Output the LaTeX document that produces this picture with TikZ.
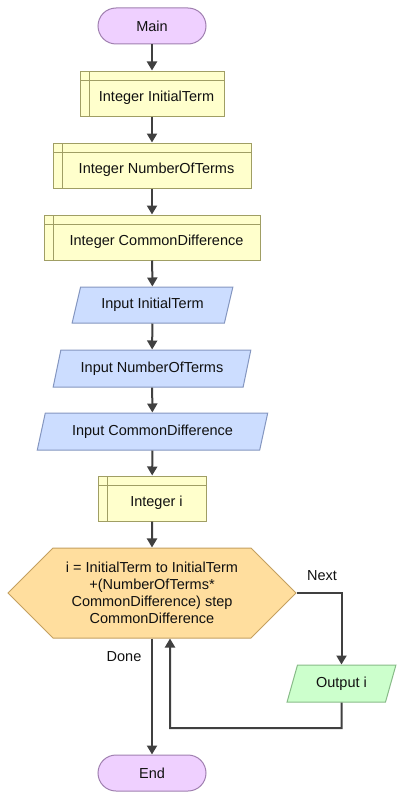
\documentclass[tikz,border=0pt]{standalone}
\usepackage{fontspec}
\setmainfont{Liberation Sans}
\usetikzlibrary{shapes.geometric,shapes.symbols,arrows.meta}
\definecolor{termfill}{HTML}{EFD0FF}
\definecolor{termdraw}{HTML}{A080B0}
\definecolor{declfill}{HTML}{FFFFCC}
\definecolor{decldraw}{HTML}{A09E64}
\definecolor{infill}{HTML}{CCDDFF}
\definecolor{indraw}{HTML}{8496C0}
\definecolor{hexfill}{HTML}{FFDE9E}
\definecolor{hexdraw}{HTML}{C4A060}
\definecolor{outfill}{HTML}{CCFFCC}
\definecolor{outdraw}{HTML}{88BB88}
\definecolor{arrowcol}{HTML}{404040}
\definecolor{txt}{HTML}{111111}
\begin{document}
\begin{tikzpicture}[x=1pt,y=-1pt,
  every node/.style={font=\fontsize{14.5pt}{17pt}\selectfont, text=txt, inner sep=0pt},
  term/.style={draw=termdraw, fill=termfill, line width=1pt, rounded corners=18pt, minimum width=108pt, minimum height=36pt},
  decl/.style={draw=decldraw, fill=declfill, line width=1pt, minimum height=45pt,
    path picture={\draw[decldraw, line width=1pt]
      ([xshift=9pt]path picture bounding box.north west) -- ([xshift=9pt]path picture bounding box.south west)
      ([yshift=-9pt]path picture bounding box.north west) -- ([yshift=-9pt]path picture bounding box.north east);}},
  declabel/.style={label={[xshift=4.5pt,yshift=-4.5pt, text=txt]center:#1}},
  io/.style={trapezium, trapezium left angle=66, trapezium right angle=114, trapezium stretches=true, line width=1pt, minimum height=36pt},
  inbox/.style={io, draw=indraw, fill=infill},
  outbox/.style={io, draw=outdraw, fill=outfill},
  loop/.style={signal, signal to=west and east, signal pointer angle=90, draw=hexdraw, fill=hexfill, line width=1pt, minimum width=288pt, minimum height=90pt, align=center},
  flow/.style={draw=arrowcol, line width=2pt, -{Triangle[length=9pt,width=10pt]}},
  lab/.style={font=\fontsize{14.5pt}{17pt}\selectfont}
]
\useasboundingbox (0,0) rectangle (404,800);
\node[term] (main) at (152,26) {Main};
\node[decl, minimum width=144pt, declabel={Integer InitialTerm}] (d1) at (152,93.5) {};
\node[decl, minimum width=198pt, declabel={Integer NumberOfTerms}] (d2) at (152,165.5) {};
\node[decl, minimum width=216pt, declabel={Integer CommonDifference}] (d3) at (152,237.5) {};
\node[inbox, minimum width=161pt] (in1) at (152.5,305) {Input InitialTerm};
\node[inbox, minimum width=198pt, minimum height=37pt] (in2) at (152,368.5) {Input NumberOfTerms};
\node[inbox, minimum width=231pt, minimum height=37pt] (in3) at (152.5,431.5) {Input CommonDifference};
\node[decl, minimum width=108pt, declabel={Integer i}] (d4) at (152,498.5) {};
\node[loop] (hex) at (152,593) {i = InitialTerm to InitialTerm\\+(NumberOfTerms*\\CommonDifference) step\\CommonDifference};
\node[outbox, minimum width=109pt, minimum height=37pt] (out) at (341.5,683.5) {Output i};
\node[term] (end) at (152,773) {End};
\node[lab] (next) at (322,576) {Next};
\node[lab] (done) at (124,657) {Done};
\coordinate (loopcorner) at (341.5,728);
\coordinate (loopin) at ([xshift=18pt]hex.south);

\draw[flow] (main) -- (d1);
\draw[flow] (d1) -- (d2);
\draw[flow] (d2) -- (d3);
\draw[flow] (d3) -- (in1);
\draw[flow] (in1) -- (in2);
\draw[flow] (in2) -- (in3);
\draw[flow] (in3) -- (d4);
\draw[flow] (d4) -- (hex);
\draw[flow] (hex.east) -| (out.north);
\draw[flow] (out.south) -- (loopcorner) -| (loopin);
\draw[flow] (hex.south) -- (end.north);
\end{tikzpicture}
\end{document}
